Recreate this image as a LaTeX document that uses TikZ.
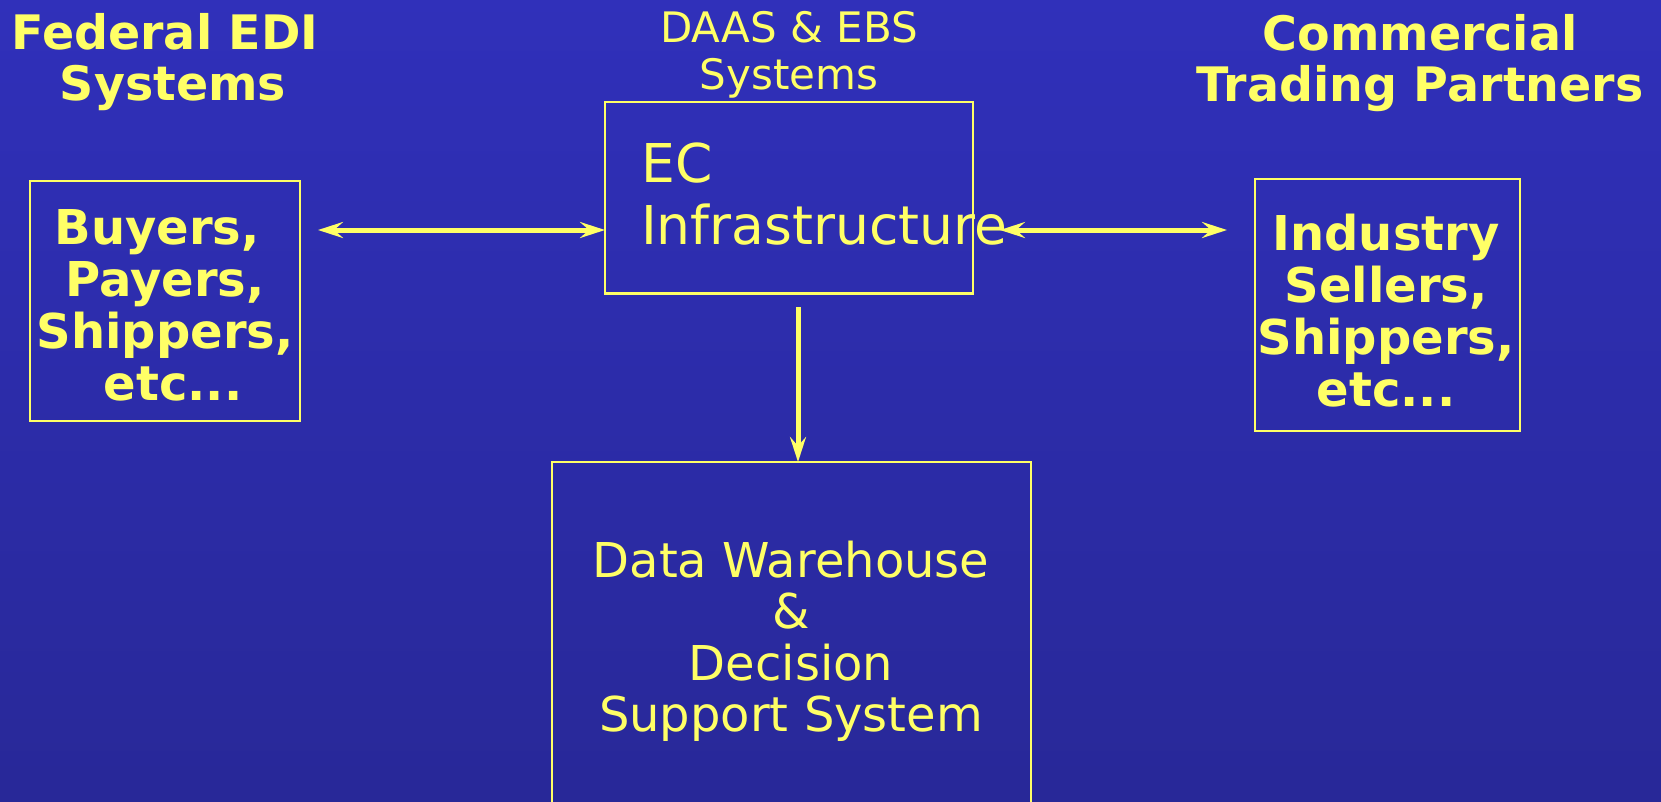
\documentclass[tikz,border=0pt]{standalone}
\usepackage{fontspec}
\setmainfont{DejaVu Sans}
\usetikzlibrary{arrows.meta}
\definecolor{bgtop}{RGB}{48,48,186}
\definecolor{bgbot}{RGB}{40,40,152}
\definecolor{ylw}{RGB}{255,255,102}
\newcommand{\cstack}[1]{\vtop{\halign{\hfil##\hfil\cr#1\crcr}}}
\newcommand{\lstack}[1]{\vtop{\halign{##\hfil\cr#1\crcr}}}
\begin{document}
\begin{tikzpicture}[x=1pt,y=-1pt,
  box/.style={draw=ylw, line width=2.5pt, inner sep=0pt, outer sep=0pt},
  boldtxt/.style={text=ylw, inner sep=0pt, anchor=base, font=\bfseries\fontsize{48}{52}\selectfont},
  titletxt/.style={text=ylw, inner sep=0pt, anchor=base, font=\bfseries\fontsize{47.5}{51}\selectfont},
  plaintxt/.style={text=ylw, inner sep=0pt, anchor=base},
  link/.style={draw=ylw, line width=5pt, -{Stealth[length=25pt,width=16pt,inset=9pt]}},
  dlink/.style={draw=ylw, line width=5pt, {Stealth[length=25pt,width=16pt,inset=9pt]}-{Stealth[length=25pt,width=16pt,inset=9pt]}}
]
\useasboundingbox (0,0) rectangle (1661,801);
\clip (0,0) rectangle (1661,801);
\shade[top color=bgtop, bottom color=bgbot] (0,0) rectangle (1661,801);

% boxes
\node[box, minimum width=270pt, minimum height=240pt] (lb) at (165,301) {};
\node[box, minimum width=368pt, minimum height=191.5pt] (ec) at (789,197.75) {};
\node[box, minimum width=265pt, minimum height=252pt] (rb) at (1387.5,305) {};
\node[box, minimum width=479pt, minimum height=368pt] (dw) at (791.5,646) {};

% titles
\node[titletxt] (fedt) at (173,49) {\cstack{Federal EDI\kern16pt\cr Systems}};
\node[plaintxt, font=\fontsize{42}{47}\selectfont] (daas) at (789,42) {\cstack{DAAS \& EBS\cr Systems}};
\node[titletxt] (comm) at (1420,50) {\cstack{Commercial\cr Trading Partners}};

% box texts
\node[boldtxt] (buy) at (165,244) {\cstack{Buyers,\kern16pt\cr Payers,\cr Shippers,\cr \kern16pt etc...}};
\node[boldtxt] (ind) at (1386,250) {\cstack{Industry\cr Sellers,\cr Shippers,\cr etc...}};
\node[plaintxt, anchor=base west, font=\fontsize{53.5}{62}\selectfont] (ect) at (641,182) {\lstack{EC\cr Infrastructure}};
\node[plaintxt, font=\fontsize{48}{51.5}\selectfont] (dwt) at (791,577) {\cstack{Data Warehouse\cr \&\cr Decision\cr Support System}};

% connectors
\coordinate (a1) at (318,230);
\coordinate (a2) at (1000,230);
\coordinate (a3) at (1227,230);
\coordinate (a4) at (798,307);
\draw[dlink] (a1) -- (ec.west |- a1);
\draw[dlink] (a2) -- (a3);
\draw[link] (a4) -- (dw.north -| a4);
\end{tikzpicture}
\end{document}
